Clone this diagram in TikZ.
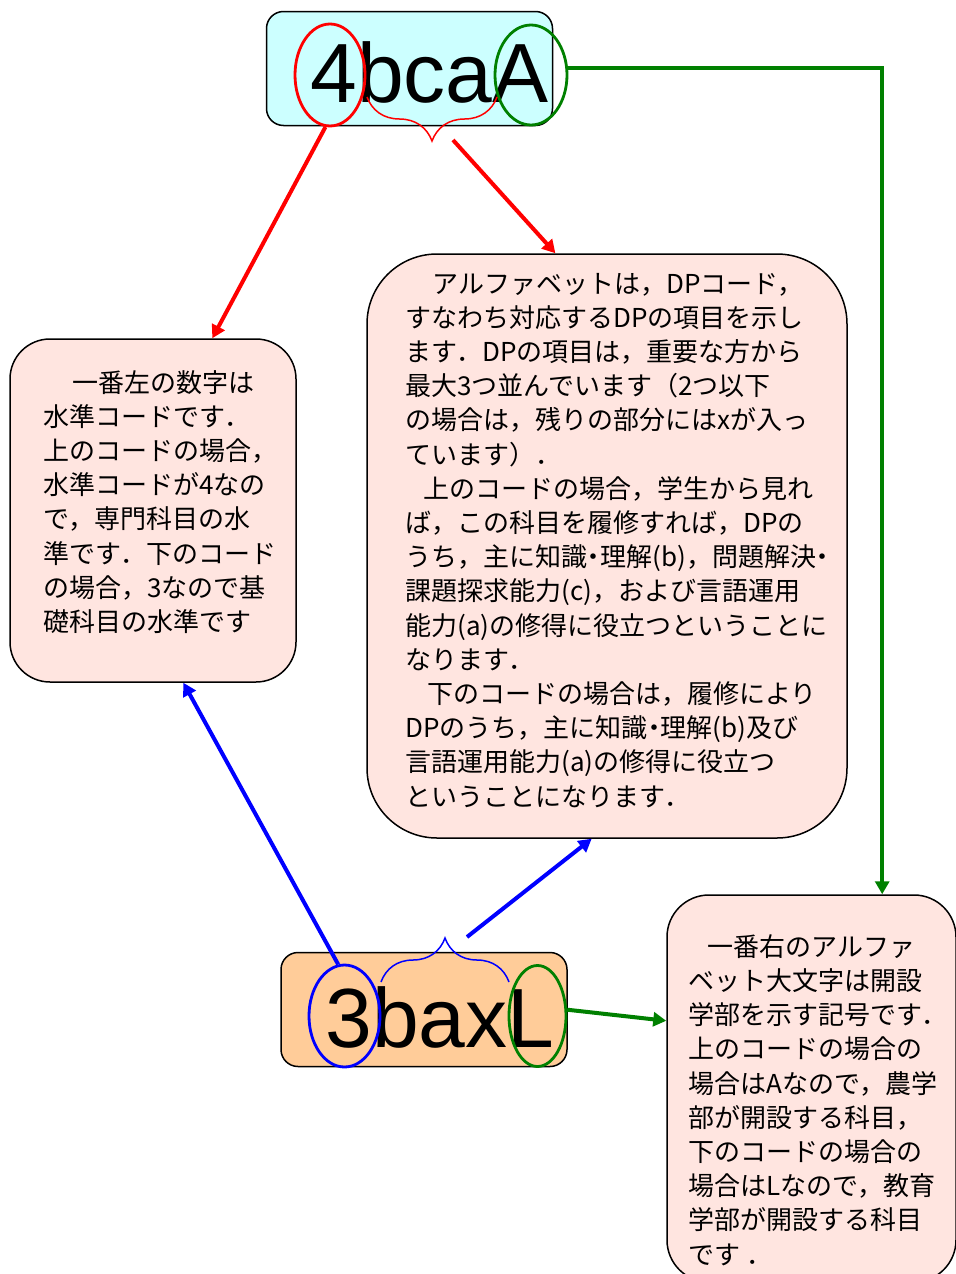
\documentclass[tikz,border=0pt]{standalone}
\usepackage{fontspec}
\setmainfont{Liberation Sans}
\newfontfamily\jpfont{Noto Sans CJK JP}
\newfontfamily\jpprop[RawFeature=+palt]{Noto Sans CJK JP}
\newcommand\nakaten{{\jpprop ・}}
\usetikzlibrary{arrows.meta,shapes.geometric,decorations.pathreplacing}
\definecolor{codecyan}{RGB}{204,255,255}
\definecolor{codeorange}{RGB}{255,204,153}
\definecolor{notepink}{RGB}{255,229,224}
\definecolor{dpgreen}{RGB}{0,128,0}
\tikzset{
	codebox/.style={draw, line width=0.75pt, rounded corners=8.5pt, minimum width=143pt, minimum height=57pt, inner sep=0pt},
	notebox/.style={draw, line width=0.75pt, fill=notepink, inner sep=0pt},
	notetext/.style={anchor=base west, inner sep=0pt, align=left, font=\jpfont\fontsize{13pt}{17.1pt}\selectfont},
	bigcode/.style={anchor=base west, inner sep=0pt, font=\fontsize{42pt}{42pt}\selectfont},
	ring/.style={draw, ellipse, line width=1.4pt, inner sep=0pt},
	pointer/.style={line width=2pt, -{Triangle[length=6.5pt,width=7pt]}},
	curly/.style={decorate, decoration={brace, amplitude=22pt}, line width=0.75pt}
}
\begin{document}
\begin{tikzpicture}[x=0.5pt,y=-0.5pt]
	\useasboundingbox (0,0) rectangle (955,1274);
	% the two codes
	\node[codebox, fill=codecyan] (topcode) at (409.5,68.5) {};
	\node[bigcode] (topcodetxt) at (310,102) {4bcaA};
	\node[codebox, fill=codeorange] (lowcode) at (424,1009.5) {};
	\node[bigcode] (lowcodetxt) at (325,1047) {3baxL};
	% explanations (text nodes sit on their last line)
	\node[notebox, rounded corners=20pt, minimum width=143pt, minimum height=171.5pt] (lvlnote) at (153,510.5) {};
	\node[notetext] (lvltxt) at (43,631.5) {\hspace{14.5pt}一番左の数字は\\
		水準コードです．\\
		上のコードの場合，\\
		水準コードが4なの\\
		で，専門科目の水\\
		準です．下のコード\\
		の場合，3なので基\\
		礎科目の水準です};
	\node[notebox, rounded corners=35pt, minimum width=240pt, minimum height=292pt] (dpnote) at (607,546) {};
	\node[notetext] (dptxt) at (405,806) {\hspace{13.5pt}アルファベットは，DPコード，\\
		すなわち対応するDPの項目を示し\\
		ます．DPの項目は，重要な方から\\
		最大3つ並んでいます（2つ以下\\
		の場合は，残りの部分にはxが入っ\\
		ています）．\\
		\hspace{9pt}上のコードの場合，学生から見れ\\
		ば，この科目を履修すれば，DPの\\
		うち，主に知識\nakaten 理解(b)，問題解決\nakaten\\
		課題探求能力(c)，および言語運用\\
		能力(a)の修得に役立つということに\\
		なります．\\
		\hspace{11pt}下のコードの場合は，履修により\\
		DPのうち，主に知識\nakaten 理解(b)及び\\
		言語運用能力(a)の修得に役立つ\\
		ということになります．};
	\node[notebox, rounded corners=21pt, minimum width=144.5pt, minimum height=193.5pt] (facnote) at (811.5,1088.5) {};
	\node[notetext] (factxt) at (688,1264) {\hspace{9.5pt}一番右のアルファ\\
		ベット大文字は開設\\
		学部を示す記号です．\\
		上のコードの場合の\\
		場合はAなので，農学\\
		部が開設する科目，\\
		下のコードの場合の\\
		場合はLなので，教育\\
		学部が開設する科目\\
		です ．};
	% rings and braces on the codes
	\node[ring, red, minimum width=35pt, minimum height=51pt] (lvlA) at (330,75) {};
	\node[ring, dpgreen, minimum width=36pt, minimum height=50pt] (facA) at (531,75) {};
	\node[ring, blue, minimum width=35.5pt, minimum height=51pt] (lvlL) at (344.5,1016) {};
	\node[ring, dpgreen, minimum width=28.5pt, minimum height=50.5pt] (facL) at (537.5,1016) {};
	\draw[curly, red] (497,97) -- (367,97);
	\draw[curly, blue] (381,982) -- (509,982);
	\coordinate (dpA) at (453,140);
	\coordinate (dpL) at (467,937);
	% pointers
	\draw[pointer, red] (lvlA.265) -- (lvlnote.71);
	\draw[pointer, red] (dpA) -- (dpnote.100.7);
	\draw[pointer, dpgreen] (facA.10) -| (facnote.70.5);
	\draw[pointer, blue] (lvlL.97) -- (lvlnote.280.6);
	\draw[pointer, blue] (dpL) -- (dpnote.267.6);
	\draw[pointer, dpgreen] (facL.12) -- (facnote.155.6);
\end{tikzpicture}
\end{document}
